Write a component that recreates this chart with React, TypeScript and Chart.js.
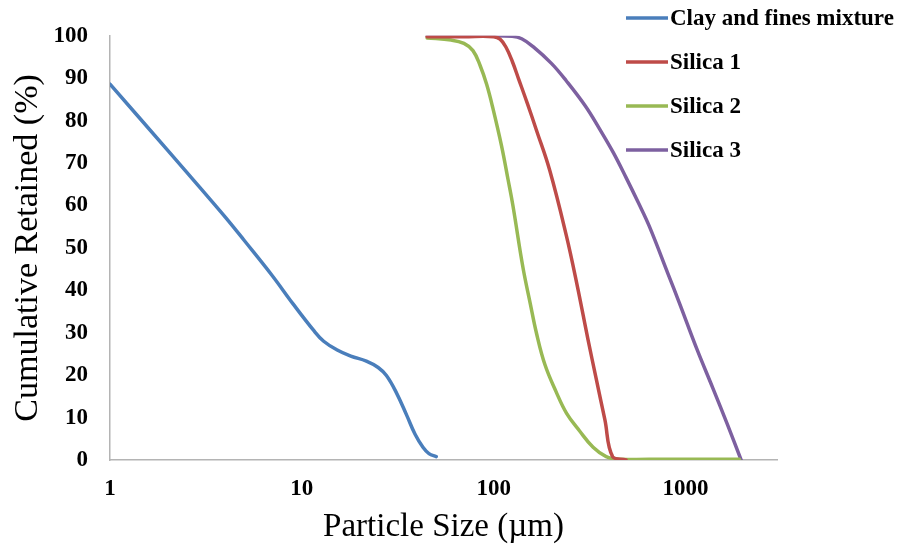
import React, { useEffect, useRef } from "react";
import { Chart, registerables } from "chart.js";

Chart.register(...registerables);

const seriesLabels = ["Clay and fines mixture", "Silica 1", "Silica 2", "Silica 3"];
const seriesColors = ["#4A7EBB", "#BE4B48", "#98B954", "#7D60A0"];

const clayX = [1, 2, 3, 4, 5, 7, 9, 11.5, 13, 15.2, 18, 21.7, 25, 27.6, 31, 35.1, 39, 42.8, 46, 50.2];
const clayY = [88.6, 73, 63.8, 57.2, 51.8, 43.5, 36.8, 30.6, 28, 26, 24.5, 23.3, 21.8, 19.9, 16, 10.7, 6, 3, 1.5, 0.8];

const silica1X = [45, 70, 100, 108, 116, 125, 135, 150, 167, 196, 239, 273, 310, 343, 380, 417, 490];
const silica1Y = [99.8, 99.8, 99.8, 99.2, 97.3, 94, 89.8, 84, 77.8, 68.3, 53, 41, 28.5, 19, 9.5, 0.8, 0];

const silica2X = [45, 60, 70, 78, 85, 92, 99, 110, 119, 126, 142, 155, 167, 185, 212, 240, 280, 330, 386, 450, 800, 1910];
const silica2Y = [99.5, 99, 98.2, 96.5, 93, 88.5, 83, 74, 66, 60, 45.5, 37, 30, 22.5, 16, 11, 6.9, 3, 0.8, 0.2, 0.2, 0.2];

const silica3X = [45, 100, 125, 140, 160, 200, 239, 300, 357, 420, 491, 570, 649, 809, 930, 1150, 1387, 1650, 1950];
const silica3Y = [100, 100, 99.9, 99.3, 97.5, 93.5, 89.4, 83.5, 78, 72.5, 66.5, 60.5, 55, 44, 37, 26, 17, 8.5, 0];

const xTickValues = [1, 10, 100, 1000];
const yTickStep = 10;

const FONT = "'Liberation Serif', 'Times New Roman', serif";

function toPoints(xs: number[], ys: number[]) {
  return xs.map((x, i) => ({ x, y: ys[i] }));
}

const sideLegend = {
  id: "sideLegend",
  afterDraw(chart: any) {
    const ctx = chart.ctx;
    const x0 = chart.chartArea.right - 151;
    ctx.save();
    ctx.font = `bold 23px ${FONT}`;
    ctx.textBaseline = "middle";
    ctx.textAlign = "left";
    chart.data.datasets.forEach((ds: any, i: number) => {
      const y = 18 + i * 44;
      ctx.strokeStyle = ds.borderColor;
      ctx.lineWidth = 3.5;
      ctx.beginPath();
      ctx.moveTo(x0, y);
      ctx.lineTo(x0 + 42, y);
      ctx.stroke();
      ctx.fillStyle = "#000";
      ctx.fillText(ds.label, x0 + 44, y + 1);
    });
    ctx.restore();
  },
};

export default function App() {
  const ref = useRef<HTMLCanvasElement | null>(null);

  useEffect(() => {
    if (!ref.current) return;
    const xsList = [clayX, silica1X, silica2X, silica3X];
    const ysList = [clayY, silica1Y, silica2Y, silica3Y];
    const chart = new Chart(ref.current, {
      type: "scatter",
      data: {
        datasets: seriesLabels.map((label, i) => ({
          label,
          data: toPoints(xsList[i], ysList[i]),
          showLine: true,
          borderColor: seriesColors[i],
          backgroundColor: seriesColors[i],
          borderWidth: 3.5,
          pointRadius: 0,
          pointHoverRadius: 0,
          tension: 0.4,
          borderCapStyle: "round",
          borderJoinStyle: "round",
        })),
      },
      options: {
        responsive: false,
        animation: false,
        layout: { padding: { top: 24, right: 127, bottom: 0, left: 0 } },
        plugins: {
          legend: { display: false },
          tooltip: { enabled: false },
        },
        scales: {
          x: {
            type: "logarithmic",
            min: 1,
            max: 3000,
            grid: { display: false, drawTicks: false },
            border: { display: true, color: "#B4B4B4", width: 1.5 },
            afterBuildTicks: (scale: any) => {
              scale.ticks = xTickValues.map((v) => ({ value: v }));
            },
            afterFit: (scale: any) => {
              scale.height = 88;
            },
            ticks: {
              autoSkip: false,
              maxRotation: 0,
              padding: 15,
              color: "#000",
              font: { family: FONT, size: 23, weight: "bold" },
              callback: (v: any) => String(v),
            },
            title: {
              display: true,
              text: "Particle Size (µm)",
              color: "#000",
              font: { family: FONT, size: 33 },
              padding: { top: 0, bottom: 1 },
            },
          },
          y: {
            min: 0,
            max: 100,
            grid: { display: false, drawTicks: false },
            border: { display: true, color: "#B4B4B4", width: 1.5 },
            afterFit: (scale: any) => {
              scale.width = 110;
            },
            ticks: {
              stepSize: yTickStep,
              padding: 22,
              color: "#000",
              font: { family: FONT, size: 23, weight: "bold" },
            },
            title: {
              display: true,
              text: "Cumulative Retained (%)",
              color: "#000",
              font: { family: FONT, size: 34 },
              padding: { top: 8, bottom: 0 },
            },
          },
        },
      } as any,
      plugins: [sideLegend],
    });
    return () => chart.destroy();
  }, []);

  return (
    <div style={{ position: "absolute", left: 0, top: 0, width: 904, height: 548, background: "#fff" }}>
      <canvas ref={ref} width={904} height={548} />
    </div>
  );
}
